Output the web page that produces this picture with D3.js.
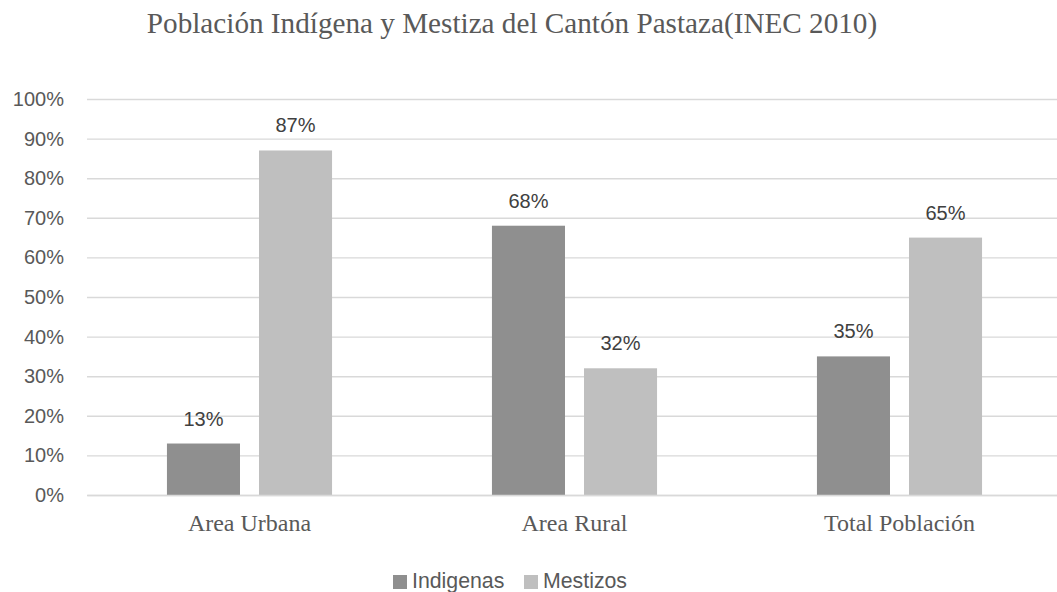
<!DOCTYPE html>
<html>
<head>
<meta charset="utf-8">
<script src="https://cdn.jsdelivr.net/npm/d3@7"></script>
<style>
  html, body { margin: 0; padding: 0; background: #fff; }
  svg { display: block; }
</style>
</head>
<body>
<svg id="chart" width="1057" height="592"></svg>
<script>
const title = "Población Indígena y Mestiza del Cantón Pastaza(INEC 2010)";
const categories = ["Area Urbana", "Area Rural", "Total Población"];
const seriesNames = ["Indigenas", "Mestizos"];
const indigenas = [0.13, 0.68, 0.35];
const mestizos = [0.87, 0.32, 0.65];
const yTicks = [0, 0.1, 0.2, 0.3, 0.4, 0.5, 0.6, 0.7, 0.8, 0.9, 1.0];
const colors = ["#8f8f8f", "#bfbfbf"];

const seriesValues = [indigenas, mestizos];

const svg = d3.select("#chart");
const mLeft = 87, mRight = 1062, mTop = 99, mBottom = 495;

const x0 = d3.scaleBand().domain(categories).range([mLeft, mRight]).paddingInner(0).paddingOuter(0);
const step = x0.bandwidth();
const x1 = d3.scaleBand().domain(seriesNames)
  .range([step * 0.246, step * 0.754]).paddingInner(0.2065).paddingOuter(0);
const y = d3.scaleLinear().domain([0, 1]).range([mBottom, mTop]);

// Title
svg.append("text")
  .attr("x", 512).attr("y", 33)
  .attr("text-anchor", "middle")
  .attr("font-family", "'Liberation Serif', 'Times New Roman', serif")
  .attr("font-size", 29.2)
  .attr("fill", "#595959")
  .text(title);

// Gridlines + y axis labels
const yAxis = d3.axisLeft(y).tickValues(yTicks).tickFormat(d3.format(".0%"))
  .tickSize(-(mRight - mLeft)).tickPadding(23);
const gy = svg.append("g").attr("transform", `translate(${mLeft},0)`).call(yAxis);
gy.select(".domain").remove();
gy.selectAll(".tick line").attr("stroke", "#d9d9d9").attr("stroke-width", 1.4);
gy.selectAll(".tick text")
  .attr("font-family", "'Liberation Sans', Arial, sans-serif")
  .attr("font-size", 20)
  .attr("fill", "#595959");

// Bars
const groups = svg.append("g").selectAll("g")
  .data(categories)
  .join("g")
  .attr("transform", d => `translate(${x0(d)},0)`);

groups.selectAll("rect")
  .data((d, i) => seriesNames.map((s, j) => ({ s, j, v: seriesValues[j][i] })))
  .join("rect")
  .attr("x", d => x1(d.s))
  .attr("width", x1.bandwidth())
  .attr("y", d => y(d.v))
  .attr("height", d => y(0) - y(d.v))
  .attr("fill", d => colors[d.j]);

groups.selectAll("text.val")
  .data((d, i) => seriesNames.map((s, j) => ({ s, j, v: seriesValues[j][i] })))
  .join("text")
  .attr("class", "val")
  .attr("x", d => x1(d.s) + x1.bandwidth() / 2)
  .attr("y", d => y(d.v) - 18)
  .attr("text-anchor", "middle")
  .attr("font-family", "'Liberation Sans', Arial, sans-serif")
  .attr("font-size", 20)
  .attr("fill", "#404040")
  .text(d => d3.format(".0%")(d.v));

// X axis (category labels)
const xAxis = d3.axisBottom(x0).tickSize(0).tickPadding(0);
const gx = svg.append("g").attr("transform", `translate(0,${mBottom})`).call(xAxis);
gx.select(".domain").attr("stroke", "#d9d9d9").attr("stroke-width", 1.4);
gx.selectAll(".tick text")
  .attr("dy", 0)
  .attr("y", 36)
  .attr("font-family", "'Liberation Serif', 'Times New Roman', serif")
  .attr("font-size", 24)
  .attr("fill", "#595959");

// Legend
const legendItems = [
  { name: seriesNames[0], color: colors[0], x: 393 },
  { name: seriesNames[1], color: colors[1], x: 524 }
];
const lg = svg.append("g");
legendItems.forEach(it => {
  lg.append("rect").attr("x", it.x).attr("y", 575).attr("width", 14).attr("height", 14).attr("fill", it.color);
  lg.append("text").attr("x", it.x + 19).attr("y", 588)
    .attr("font-family", "'Liberation Sans', Arial, sans-serif")
    .attr("font-size", 21.3)
    .attr("fill", "#595959")
    .text(it.name);
});
</script>
</body>
</html>
